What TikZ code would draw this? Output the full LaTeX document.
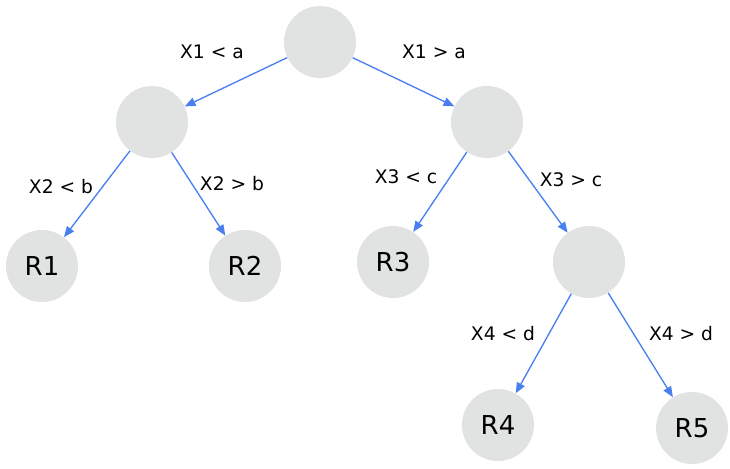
\documentclass[tikz,border=0pt]{standalone}
\usepackage{fontspec}
\setmainfont{DejaVu Sans}
\usetikzlibrary{
  arrows.meta,
  positioning
}
\definecolor{dtNode}{HTML}{E0E3E2}
\definecolor{dtEdge}{HTML}{4A7FF0}
\tikzset{
  dtnode/.style={
    circle, fill=dtNode, minimum size=54pt, inner sep=0pt,
    font=\fontsize{19.5}{22}\selectfont
  },
  split/.style={-{Triangle[length=8pt, width=6.5pt]}, line width=1pt, dtEdge},
  cond/.style={font=\fontsize{14}{16}\selectfont, inner sep=1pt}
}

\begin{document}
\begin{tikzpicture}[x=0.75pt, y=-0.75pt]
  \useasboundingbox (0,0) rectangle (730,468);
  % tree nodes
  \node[dtnode] (root) at (320,42) {};
  \node[dtnode] (left) at (152,122) {};
  \node[dtnode] (right) at (487,122) {};
  \node[dtnode] (r1) at (42,266) {R1};
  \node[dtnode] (r2) at (245,266) {R2};
  \node[dtnode] (r3) at (393,262) {R3};
  \node[dtnode] (inner) at (589,262) {};
  \node[dtnode] (r4) at (498,425) {R4};
  \node[dtnode] (r5) at (692,428) {R5};
  % splits
  \draw[split] (root) -- (left);
  \draw[split] (root) -- (right);
  \draw[split] (left) -- (r1);
  \draw[split] (left) -- (r2);
  \draw[split] (right) -- (r3);
  \draw[split] (right) -- (inner);
  \draw[split] (inner) -- (r4);
  \draw[split] (inner) -- (r5);
  % conditions
  \node[cond] (c1) at (212,52) {X1 < a};
  \node[cond] (c2) at (434,52) {X1 > a};
  \node[cond] (c3) at (61,187) {X2 < b};
  \node[cond] (c4) at (232,184) {X2 > b};
  \node[cond] (c5) at (406,177) {X3 < c};
  \node[cond] (c6) at (571,180) {X3 > c};
  \node[cond] (c7) at (503,334) {X4 < d};
  \node[cond] (c8) at (681,334) {X4 > d};
\end{tikzpicture}
\end{document}
